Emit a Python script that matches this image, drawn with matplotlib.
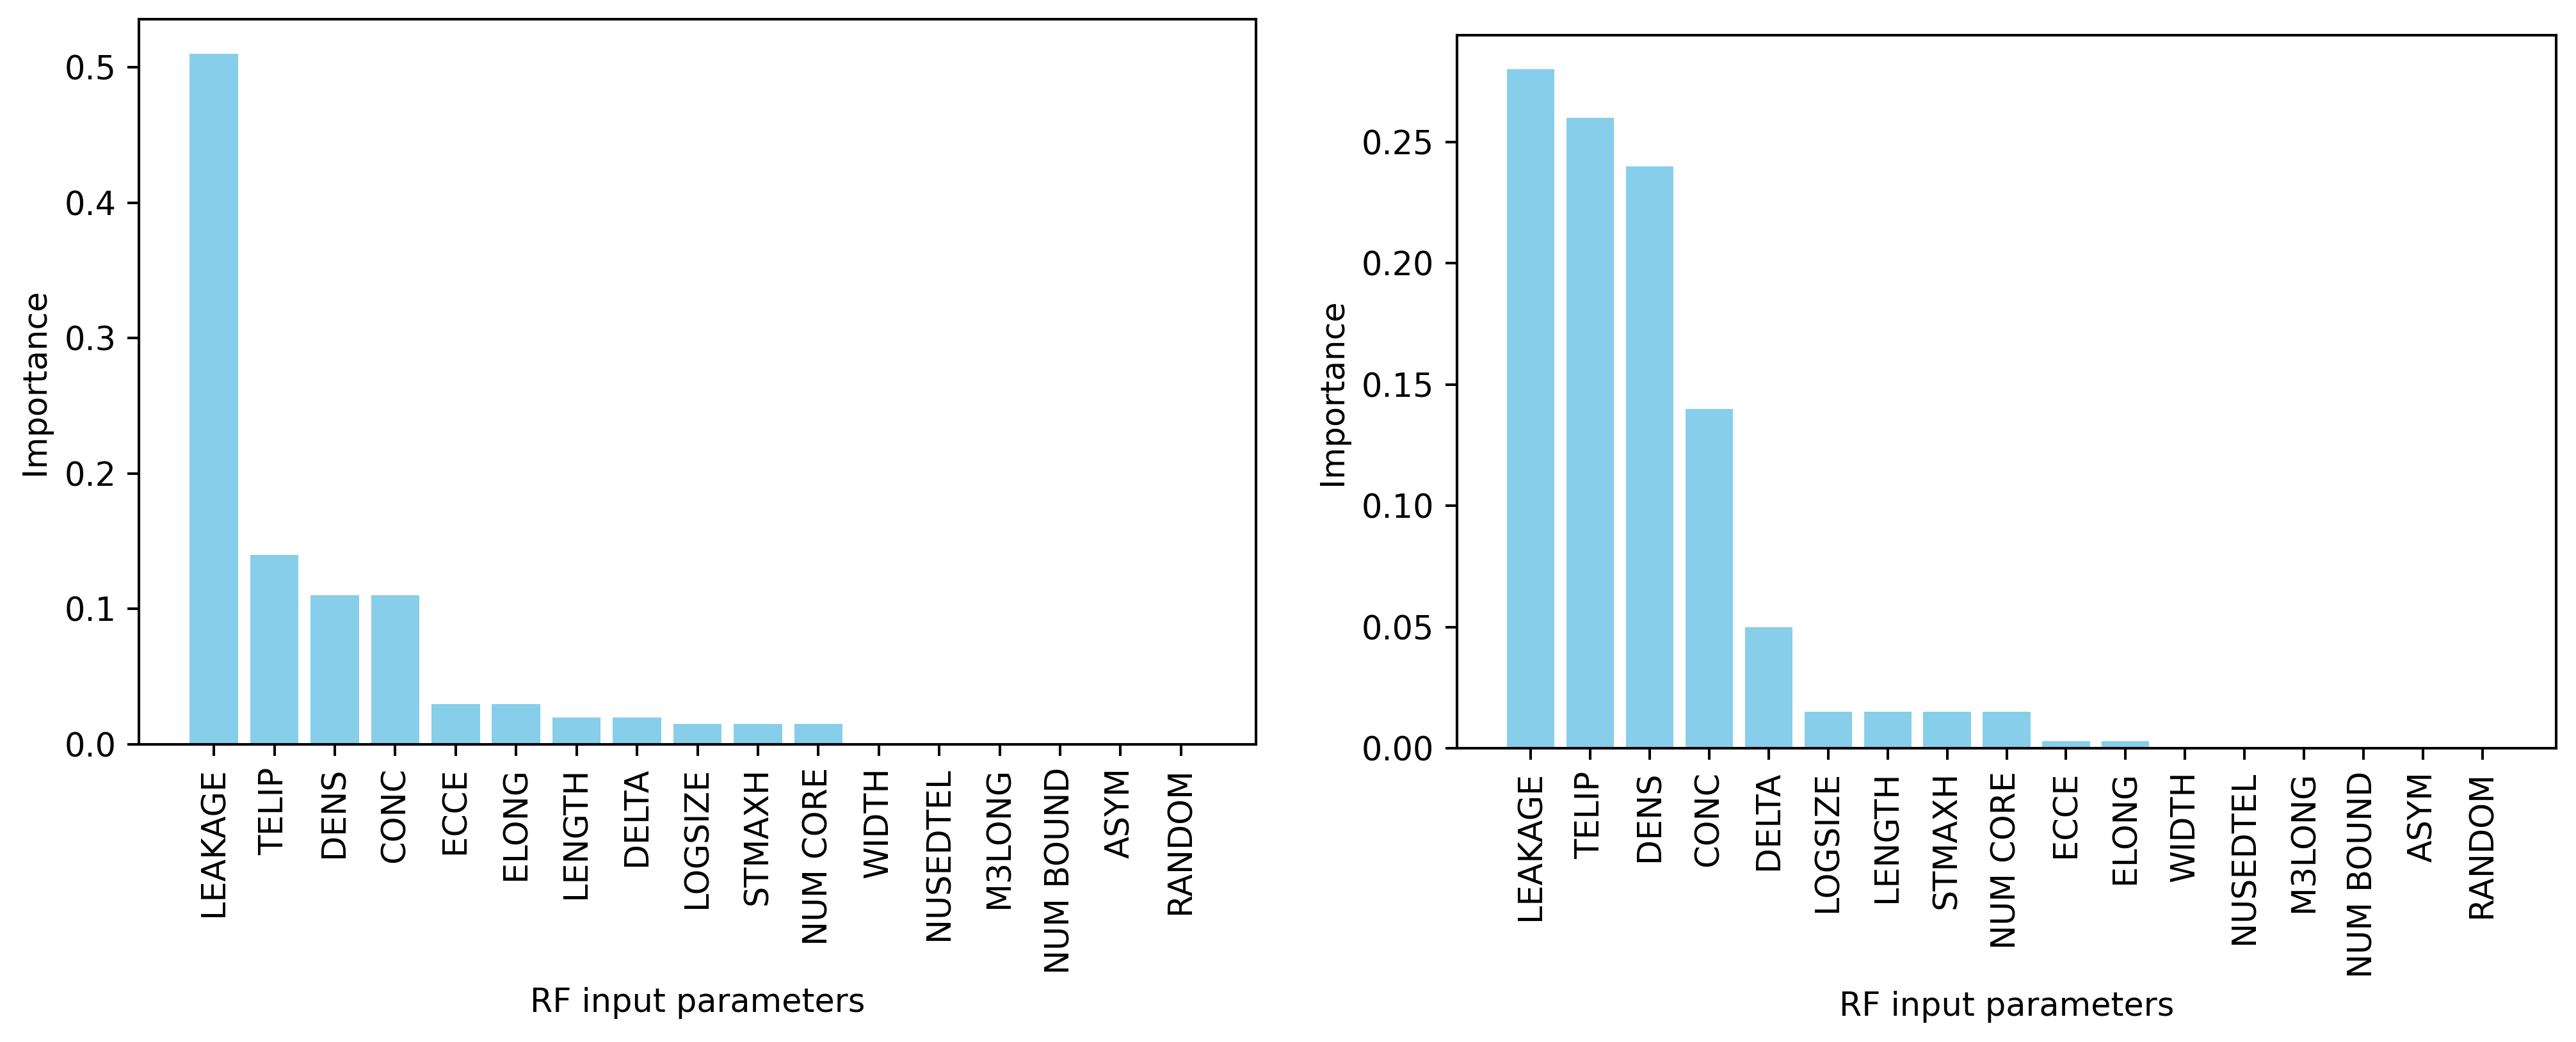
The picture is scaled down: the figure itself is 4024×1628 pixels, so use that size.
import matplotlib
matplotlib.use("Agg")
import matplotlib.pyplot as plt

left_params = ["LEAKAGE", "TELIP", "DENS", "CONC", "ECCE", "ELONG", "LENGTH", "DELTA",
               "LOGSIZE", "STMAXH", "NUM CORE", "WIDTH", "NUSEDTEL", "M3LONG",
               "NUM BOUND", "ASYM", "RANDOM"]
left_values = [0.51, 0.14, 0.11, 0.11, 0.03, 0.03, 0.02, 0.02,
               0.015, 0.015, 0.015, 0.0, 0.0, 0.0, 0.0, 0.0, 0.0]

right_params = ["LEAKAGE", "TELIP", "DENS", "CONC", "DELTA", "LOGSIZE", "LENGTH", "STMAXH",
                "NUM CORE", "ECCE", "ELONG", "WIDTH", "NUSEDTEL", "M3LONG",
                "NUM BOUND", "ASYM", "RANDOM"]
right_values = [0.28, 0.26, 0.24, 0.14, 0.05, 0.015, 0.015, 0.015,
                0.015, 0.003, 0.003, 0.0, 0.0, 0.0, 0.0, 0.0, 0.0]

plt.rcParams['font.size'] = 10
plt.rcParams['font.family'] = ['DejaVu Sans']

DPI = 366
W, H = 4024, 1628
fig = plt.figure(figsize=(W / DPI, H / DPI), dpi=DPI)

ax1 = fig.add_axes([217 / W, (H - 1163) / H, (1962 - 217) / W, (1163 - 30) / H])
ax2 = fig.add_axes([2276 / W, (H - 1169) / H, (3993 - 2276) / W, (1169 - 55) / H])

for ax, params, vals in [(ax1, left_params, left_values), (ax2, right_params, right_values)]:
    ax.bar(params, vals, color="skyblue", width=0.8)
    ax.set_xlabel("RF input parameters")
    ax.set_ylabel("Importance")
    ax.tick_params(axis='x', labelrotation=90)

fig.savefig("out.png", dpi=DPI)
